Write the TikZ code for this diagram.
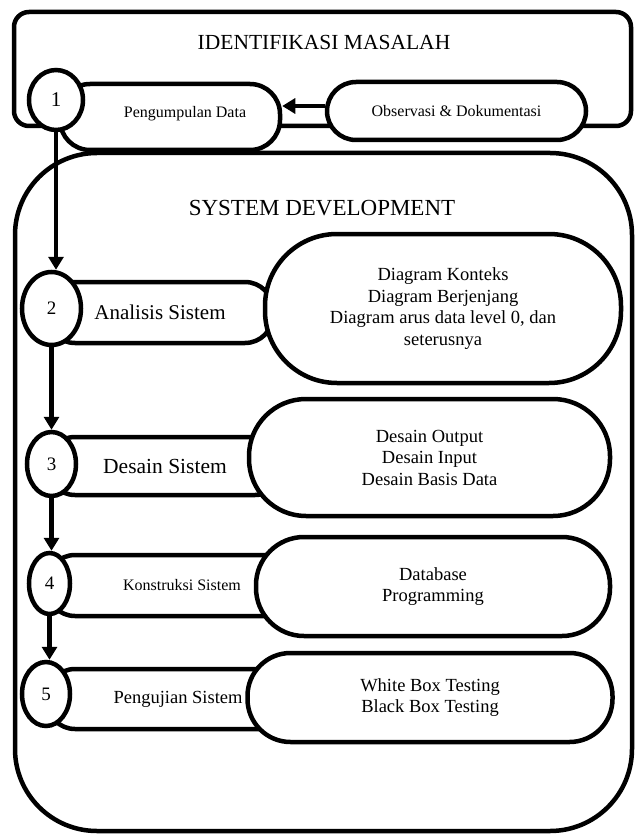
\documentclass[tikz,border=0pt]{standalone}
\usepackage{fontspec}
\setmainfont{Liberation Serif}
\usepackage{tikz}
\usetikzlibrary{shapes.geometric, arrows.meta}

\newcommand{\ukuran}[1]{\fontsize{#1}{#1}\selectfont}

\tikzset{
    garis/.style={line width=4.5pt},
    bulat/.style={ellipse, draw, line width=4.5pt, fill=white, inner sep=0pt, font=\ukuran{19}},
    jalur/.style={rectangle, draw, line width=4.5pt, fill=white, inner sep=0pt},
    gelembung/.style={rectangle, draw, line width=4.5pt, fill=white, inner sep=0pt, align=center, font=\fontsize{18.5}{21.5}\selectfont},
    panah/.style={line width=4.5pt, -{Triangle[length=13pt,width=15pt]}},
}

\begin{document}
\begin{tikzpicture}[x=1pt, y=-1pt]
    \useasboundingbox (0,0) rectangle (637,834);
    % Identifikasi masalah
    \draw[garis, rounded corners=15pt] (14,12) rectangle (631,126);
    \node[font=\ukuran{21.5}] (judul1) at (324,42) {IDENTIFIKASI MASALAH};
    % System development
    \draw[garis, rounded corners=82pt] (15,153) rectangle (632,831);
    \node[font=\ukuran{23}] (judul2) at (322,208) {SYSTEM DEVELOPMENT};

    % Tahap 1
    \node[jalur, rounded corners=30pt, minimum width=220pt, minimum height=66pt,
          label={[font=\ukuran{16}, xshift=15pt, yshift=3pt]center:Pengumpulan Data}] (kumpul) at (170,117) {};
    \node[jalur, rounded corners=29pt, minimum width=259pt, minimum height=58pt, font=\ukuran{16}] (obs) at (456.5,111) {Observasi \& Dokumentasi};
    \node[bulat, minimum width=54pt, minimum height=60pt, font=\ukuran{21}] (c1) at (56,100) {1};

    % Tahap 2 - 5 (jalur)
    \node[jalur, rounded corners=28pt, minimum width=226pt, minimum height=61pt, font=\ukuran{21}] (analisis) at (160,312.5) {Analisis Sistem};
    \node[jalur, rounded corners=28pt, minimum width=236pt, minimum height=58pt, font=\ukuran{21.5}] (desain) at (165,466) {Desain Sistem};
    \node[jalur, rounded corners=28pt, minimum width=270pt, minimum height=61pt, font=\ukuran{16}] (konstruksi) at (182,585.5) {Konstruksi Sistem};
    \node[jalur, rounded corners=28pt, minimum width=262pt, minimum height=60pt, font=\ukuran{18.5}] (uji) at (178,699) {Pengujian Sistem};

    % Rincian
    \node[gelembung, rounded corners=72pt, minimum width=356pt, minimum height=149pt] (g2) at (443,308.5)
        {Diagram Konteks\\Diagram Berjenjang\\Diagram arus data level 0, dan\\seterusnya};
    \node[gelembung, rounded corners=57pt, minimum width=361pt, minimum height=117pt] (g3) at (429.5,457.5)
        {Desain Output\\Desain Input\\Desain Basis Data};
    \node[gelembung, rounded corners=48pt, minimum width=354pt, minimum height=99pt] (g4) at (433,586.5)
        {Database\\Programming};
    \node[gelembung, rounded corners=43pt, minimum width=365pt, minimum height=89pt] (g5) at (430,697.5)
        {White Box Testing\\Black Box Testing};

    % Nomor tahap
    \node[bulat, minimum width=59pt, minimum height=73pt] (c2) at (51.5,308.5) {2};
    \node[bulat, minimum width=49pt, minimum height=64pt] (c3) at (51.5,464) {3};
    \node[bulat, minimum width=41pt, minimum height=61pt] (c4) at (49.5,583.5) {4};
    \node[bulat, minimum width=48pt, minimum height=64pt] (c5) at (46,694) {5};

    % Panah
    \draw[panah] ([yshift=5pt]obs.west) -- ([yshift=5pt]obs.west -| kumpul.east);
    \draw[panah] (c1.south) -- (c1.south |- c2.north);
    \draw[panah] (c2.south) -- (c2.south |- c3.north);
    \draw[panah] (c3.south) -- (c3.south |- c4.north);
    \draw[panah] (c4.south) -- (c4.south |- c5.north);
\end{tikzpicture}
\end{document}
